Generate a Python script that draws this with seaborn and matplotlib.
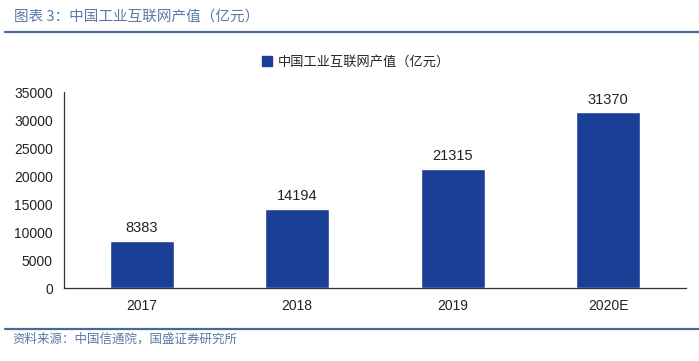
import matplotlib
matplotlib.use("Agg")
import matplotlib.pyplot as plt
import seaborn as sns
import pandas as pd
from matplotlib.lines import Line2D
from matplotlib.patches import Patch

categories = ["2017", "2018", "2019", "2020E"]
values = [8383, 14194, 21315, 31370]
series_name = "中国工业互联网产值（亿元）"
title_text = "图表 3：中国工业互联网产值（亿元）"
source_text = "资料来源：中国信通院，国盛证券研究所"
yticks = [0, 5000, 10000, 15000, 20000, 25000, 30000, 35000]

sns.set_theme(style="white")
plt.rcParams['font.family'] = ['Noto Sans CJK SC', 'DejaVu Sans']

W, H = 699, 361
fig = plt.figure(figsize=(W / 100, H / 100), dpi=100, facecolor="white")

def fx(px):
    return px / W

def fy(py):
    return 1 - py / H

bar_color = "#1b3f97"
line_color = "#4a6896"
text_color = "#222222"

ax = fig.add_axes([fx(64), fy(288), fx(686) - fx(64), fy(92) - fy(288)])
df = pd.DataFrame({"year": categories, "value": values})
sns.barplot(data=df, x="year", y="value", color=bar_color, width=0.41,
            saturation=1, ax=ax)

ax.set_xlim(-0.5, len(categories) - 0.5)
ax.set_ylim(0, 35000)
ax.set_yticks(yticks)
ax.set_yticklabels([str(v) for v in yticks], family=['Liberation Sans', 'DejaVu Sans'],
                   fontsize=10, color=text_color)
ax.set_xticks(range(len(categories)))
ax.set_xticklabels(categories, family=['Liberation Sans', 'DejaVu Sans'],
                   fontsize=10, color=text_color)
ax.set_xticks([i - 0.5 for i in range(len(categories) + 1)], minor=True)
ax.tick_params(axis="x", which="major", length=0, pad=8)
ax.tick_params(axis="x", which="minor", length=4, width=0.8, color="#333333", direction="out")
ax.tick_params(axis="y", which="major", length=4, width=0.8, color="#333333", direction="out", pad=4)
ax.set_xlabel("")
ax.set_ylabel("")
for s in ["top", "right"]:
    ax.spines[s].set_visible(False)
for s in ["left", "bottom"]:
    ax.spines[s].set_color("#333333")
    ax.spines[s].set_linewidth(0.9)

for i, v in enumerate(values):
    ax.text(i, v + 1000, str(v), ha="center", va="bottom", fontsize=10.5,
            family=['Liberation Sans', 'DejaVu Sans'], color=text_color)

handle = Patch(facecolor=bar_color, edgecolor=bar_color)
fig.legend([handle], [series_name], loc="center", bbox_to_anchor=(fx(356), fy(62)),
           frameon=False, handlelength=0.75, handleheight=0.75,
           handletextpad=0.4, prop={'family': ['Noto Sans CJK SC', 'DejaVu Sans'], 'size': 9.5})

fig.text(fx(14), fy(17), title_text, ha="left", va="center", fontsize=10.5,
         color="#5a78a8", style="italic")
fig.add_artist(Line2D([fx(5), fx(699)], [fy(32), fy(32)], color=line_color, linewidth=1.6))
fig.add_artist(Line2D([fx(5), fx(699)], [fy(329), fy(329)], color=line_color, linewidth=1.6))
fig.text(fx(12), fy(339), source_text, ha="left", va="center", fontsize=9,
         color="#5a78a8", style="italic")

fig.savefig("out.png", dpi=100, facecolor="white")
